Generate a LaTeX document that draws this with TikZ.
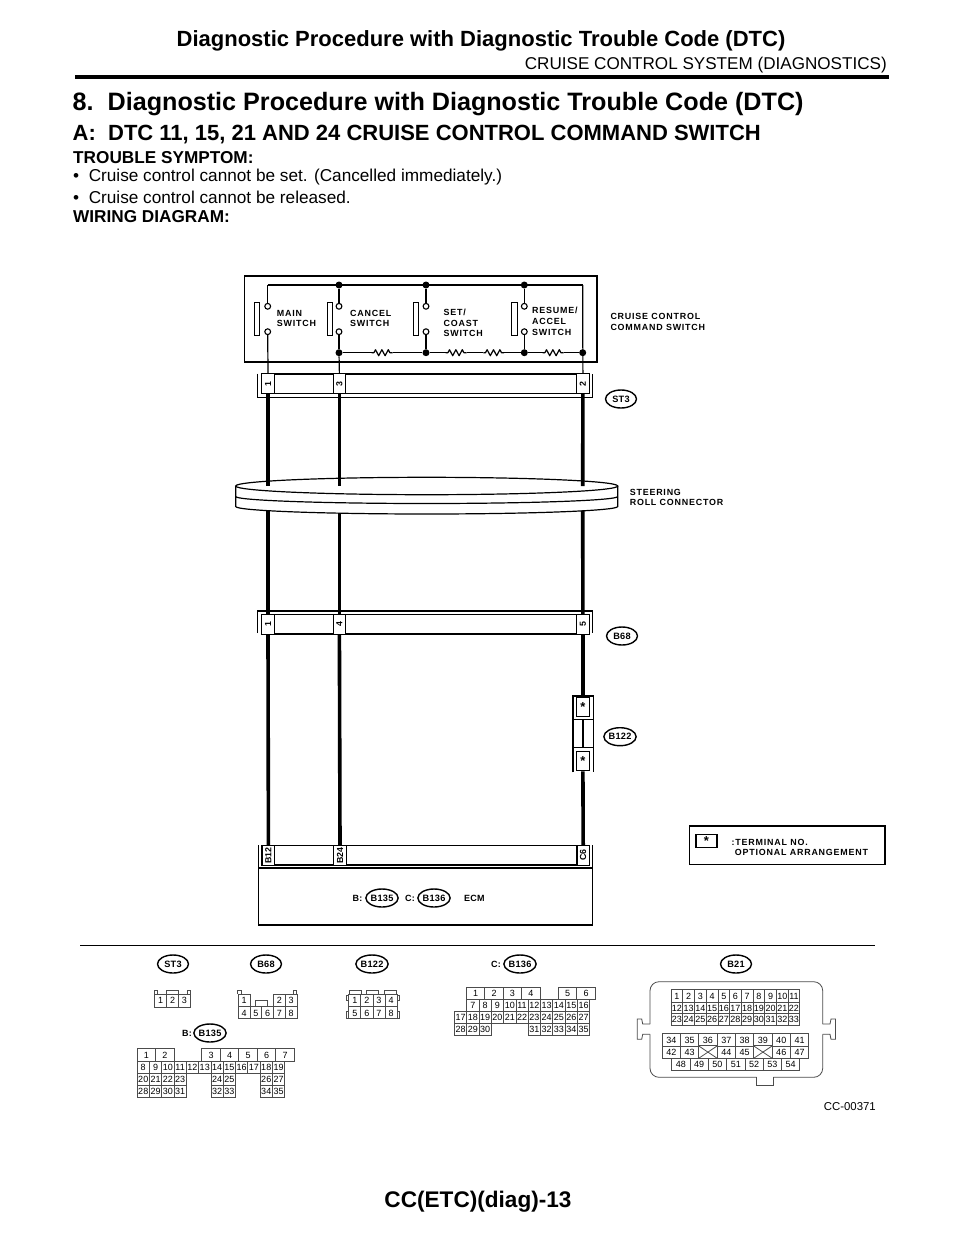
\documentclass[tikz,border=0pt]{standalone}
\usepackage{fontspec}
\setmainfont{Liberation Sans}
\newfontfamily\lblfont[LetterSpace=9]{Liberation Sans}
\newfontfamily\tagfont[LetterSpace=3]{Liberation Sans}
\usetikzlibrary{shapes.geometric}
\tikzset{
	txt/.style={inner sep=0pt,anchor=west,align=left},
	lbl/.style={txt,font=\lblfont\bfseries\fontsize{8.9}{10.8}\selectfont},
	side/.style={txt,font=\tagfont\bfseries\fontsize{9}{10}\selectfont},
	body/.style={txt,font=\fontsize{17.2}{19}\selectfont},
	bold/.style={txt,font=\bfseries\fontsize{17.2}{19}\selectfont},
	tag/.style={draw,ellipse,line width=1.4pt,fill=white,inner sep=0pt,minimum width=31pt,minimum height=18pt,font=\tagfont\bfseries\fontsize{9.2}{10}\selectfont},
	pin/.style={draw=black!70,line width=0.8pt,fill=white,inner sep=0pt,anchor=north west,text height=6.4pt,text depth=0pt,font=\fontsize{9}{9}\selectfont},
	cell/.style={draw,line width=1.1pt,fill=white,inner sep=0pt,minimum width=12.4pt,minimum height=19.5pt,font=\bfseries\fontsize{8.8}{9}\selectfont},
	starbox/.style={draw,line width=1.2pt,fill=white,inner sep=0pt,minimum width=12.6pt,minimum height=19.6pt,font=\bfseries\fontsize{13}{13}\selectfont},
	hull/.style={draw,line width=1.2pt},
	shell/.style={draw=black!70,line width=0.8pt},
	wire/.style={line width=3.6pt},
	thin wire/.style={line width=1.2pt},
	term/.style={draw,circle,line width=1.1pt,fill=white,inner sep=0pt,minimum size=5.8pt},
	dot/.style={fill,circle,inner sep=0pt,minimum size=7pt},
	blade/.style={draw,line width=1.1pt,minimum width=5.4pt,minimum height=32.5pt,inner sep=0pt}
}
\newcommand{\pinrow}[6]{
	\foreach \c/\n in {#6}
	{
		\node[pin,minimum width=#4,minimum height=#5] (#1-\n) at ({#2+\c*#4},#3) {\n};
	}
}
\newcommand{\resist}[2]{
	\draw[thin wire,line join=round] (#1) -- ++(2.2,0) -- ++(1.6,-3) -- ++(3.2,6) -- ++(3.2,-6) -- ++(3.2,6) -- ++(3.2,-6) -- ++(1.6,3) -- (#2);
}
\begin{document}
\begin{tikzpicture}[x=1pt,y=-1pt]
	\useasboundingbox[fill=white] (0,0) rectangle (960,1242);
	\node[inner sep=0pt,font=\bfseries\fontsize{22}{24}\selectfont] (title) at (481,40.5) {Diagnostic Procedure with Diagnostic Trouble Code (DTC)};
	\node[inner sep=0pt,anchor=east,font=\fontsize{17.1}{19}\selectfont] (system) at (887,65.5) {CRUISE CONTROL SYSTEM (DIAGNOSTICS)};
	\coordinate (ruleA) at (75,77);
	\coordinate (ruleB) at (889,77);
	\draw[line width=3.6pt] (ruleA) -- (ruleB);
	\node[txt,font=\bfseries\fontsize{25.15}{27}\selectfont] (head) at (72.5,104) {8.\ \ Diagnostic Procedure with Diagnostic Trouble Code (DTC)};
	\node[txt,font=\bfseries\fontsize{22}{24}\selectfont] (sub) at (72.5,135) {A:\ \ DTC 11, 15, 21 AND 24 CRUISE CONTROL COMMAND SWITCH};
	\node[bold] (symptom) at (73,157.5) {TROUBLE SYMPTOM:};
	\node[body] (item1) at (73,177.5) {•\ \ Cruise control cannot be set. (Cancelled immediately.)};
	\node[body] (item2) at (73,197.5) {•\ \ Cruise control cannot be released.};
	\node[bold] (wiring) at (73,216.5) {WIRING DIAGRAM:};

	\draw[hull,line width=1.4pt] (244.5,276) rectangle (597,362);
	\coordinate (bus1) at (267.7,285);
	\coordinate (bus2) at (582.7,285);
	\draw[thin wire] (bus1) -- (bus2);
	\foreach \s/\x in {a/267.7,b/339,c/426,d/524.3}
	{
		\node[term] (\s1) at (\x,306.3) {};
		\node[term] (\s2) at (\x,331.7) {};
	}
	\foreach \s/\x in {b/339,c/426,d/524.3}
	{
		\node[dot] (top\s) at (\x,285) {};
		\node[dot] (low\s) at (\x,352.7) {};
		\draw[thin wire] (top\s) -- (\s1);
		\draw[thin wire] (\s2) -- (low\s);
	}
	\node[dot] (lowe) at (582.7,352.7) {};
	\draw[thin wire] (bus1) -- (a1);
	\foreach \s/\x in {a/257.2,b/330,c/416.2,d/514.5}
	{
		\node[blade] (blade\s) at (\x,319) {};
	}
	\coordinate (r1a) at (371.7,352.7);
	\coordinate (r2a) at (445.7,352.7);
	\coordinate (r3a) at (483.3,352.7);
	\coordinate (r4a) at (542.7,352.7);
	\coordinate (r1b) at (392.5,352.7);
	\coordinate (r2b) at (466.5,352.7);
	\coordinate (r3b) at (504.1,352.7);
	\coordinate (r4b) at (563.5,352.7);
	\draw[thin wire] (lowb) -- (r1a) (r1b) -- (lowc) -- (r2a) (r2b) -- (r3a) (r3b) -- (lowd) -- (r4a) (r4b) -- (lowe);
	\resist{r1a}{r1b}
	\resist{r2a}{r2b}
	\resist{r3a}{r3b}
	\resist{r4a}{r4b}
	\node[lbl] (main) at (276.7,318.5) {MAIN\\SWITCH};
	\node[lbl] (cancel) at (350,318.5) {CANCEL\\SWITCH};
	\node[lbl] (setc) at (443.5,323) {SET/\\COAST\\SWITCH};
	\node[lbl] (resume) at (532,321.5) {RESUME/\\ACCEL\\SWITCH};
	\node[lbl] (cruise) at (610.3,322) {CRUISE CONTROL\\COMMAND SWITCH};

	\draw[hull,line width=1.1pt] (261.7,374) rectangle (589,393.3);
	\draw[hull,line width=1.4pt] (257.7,373.5) -- (257.7,397.5) -- (592.3,397.5) -- (592.3,373.5);
	\node[cell] (st3a) at (268,383.6) {\rotatebox{90}{1}};
	\node[cell] (st3b) at (339.4,383.6) {\rotatebox{90}{3}};
	\node[cell] (st3c) at (582.9,383.6) {\rotatebox{90}{2}};
	\node[tag] (tagst3) at (621,399) {ST3};
	\draw[thin wire] (a2) -- (st3a.north);
	\draw[thin wire] (lowb) -- (st3b.north);
	\draw[thin wire] (bus2) -- (st3c.north);

	\draw[hull,fill=white] (235.7,486) -- (235.7,506.5) arc[start angle=180,end angle=0,x radius=191,y radius=7.5] -- (617.7,486);
	\draw[hull] (235.7,496.5) arc[start angle=180,end angle=0,x radius=191,y radius=7];
	\draw[hull,fill=white] (426.7,486) ellipse[x radius=191,y radius=8.7];
	\node[lbl] (roll) at (629.6,497.5) {STEERING\\ROLL CONNECTOR};
	\coordinate (rollAt) at (268,486);
	\coordinate (rollBt) at (339.4,486);
	\coordinate (rollCt) at (582.7,486);
	\coordinate (rollAb) at (268,510.5);
	\coordinate (rollBb) at (339.4,512.8);
	\coordinate (rollCb) at (582.7,510.5);

	\draw[hull,line width=1.1pt] (261.7,614.7) rectangle (589,634);
	\draw[hull,line width=1.4pt] (257.7,633) -- (257.7,611) -- (592.7,611) -- (592.7,633);
	\node[cell] (b68a) at (268,624.3) {\rotatebox{90}{1}};
	\node[cell] (b68b) at (339.4,624.3) {\rotatebox{90}{4}};
	\node[cell] (b68c) at (582.9,624.3) {\rotatebox{90}{5}};
	\node[tag] (tagb68) at (622,636) {B68};
	\draw[wire] (st3a.south) -- (rollAt) (rollAb) -- (b68a.north);
	\draw[wire] (st3b.south) -- (rollBt) (rollBb) -- (b68b.north);
	\draw[wire] (st3c.south) -- (rollCt) (rollCb) -- (b68c.north);

	\draw[hull] (572.9,719.3) -- (572.9,696) -- (593.1,696) -- (593.1,719.3) -- cycle;
	\draw[hull] (572.9,772.3) -- (572.9,747.3) -- (593.1,747.3) -- (593.1,772.3);
	\draw[hull] (572.9,719.3) -- (572.9,747.3) (593.1,719.3) -- (593.1,747.3);
	\coordinate (midA) at (582.9,719.3);
	\coordinate (midB) at (582.9,747.3);
	\draw[hull] (midA) -- (midB);
	\node[starbox] (b122a) at (582.9,706.8) {*};
	\node[starbox] (b122b) at (582.9,761) {*};
	\node[tag] (tagb122) at (620,736.7) {B122};

	\draw[hull] (258.8,845) -- (258.8,925) -- (592.8,925) -- (592.8,845);
	\draw[hull] (258.8,868) -- (592.8,868);
	\draw[hull,line width=1.1pt] (261.7,845.5) rectangle (589.5,865);
	\node[cell] (ecma) at (268.4,855.3) {\rotatebox{90}{B12}};
	\node[cell] (ecmb) at (340,855.3) {\rotatebox{90}{B24}};
	\node[cell] (ecmc) at (583.2,855.3) {\rotatebox{90}{C6}};
	\draw[wire] (b68a.south) -- (ecma.north);
	\draw[wire] (b68b.south) -- (ecmb.north);
	\draw[wire] (b68c.south) -- (b122a.north);
	\draw[wire] (b122b.south) -- (ecmc.north);
	\node[side] (bmark) at (352.5,898) {B:};
	\node[tag] (tagb135) at (382,898) {B135};
	\node[side] (cmark) at (405,898) {C:};
	\node[tag] (tagb136) at (434,898) {B136};
	\node[side] (ecm) at (464,898) {ECM};

	\draw[hull,line width=1.4pt] (689.5,826) rectangle (885,864.3);
	\node[starbox,minimum width=21pt,minimum height=12.4pt] (legend) at (706.5,841) {*};
	\node[lbl] (terminal) at (731.5,847.5) {:TERMINAL NO.\\\ OPTIONAL ARRANGEMENT};

	\coordinate (ruleC) at (80,945.5);
	\coordinate (ruleD) at (875,945.5);
	\draw[line width=1.8pt] (ruleC) -- (ruleD);

	\node[tag] (keyst3) at (173,964) {ST3};
	\node[tag] (keyb68) at (266,964) {B68};
	\node[tag] (keyb122) at (372,964) {B122};
	\node[side] (keyc) at (491,964) {C:};
	\node[tag] (keyb136) at (520,964) {B136};
	\node[tag] (keyb21) at (736,964) {B21};
	\node[side] (keyb) at (182,1033) {B:};
	\node[tag] (keyb135) at (210,1033) {B135};

	\foreach \a/\b in {154.3/157.3,166/178,187/190}
	{
		\draw[shell] (\a,994) -- (\a,990) -- (\b,990) -- (\b,994);
	}
	\pinrow{st3}{154.3}{994}{11.9}{12.5}{0/1,1/2,2/3}

	\foreach \a/\b in {237.7/241,293.4/296.7}
	{
		\draw[shell] (\a,994) -- (\a,990) -- (\b,990) -- (\b,994);
	}
	\draw[shell] (255,1006.7) -- (255,1000.7) -- (267.3,1000.7) -- (267.3,1006.7);
	\pinrow{b68}{237.7}{994}{11.8}{12.4}{0/1,3/2,4/3}
	\pinrow{b68}{237.7}{1006.4}{11.8}{12}{0/4,1/5,2/6,3/7,4/8}

	\foreach \a/\b in {349.3/361,366.7/378.3,384/396}
	{
		\draw[shell] (\a,994) -- (\a,990) -- (\b,990) -- (\b,994);
	}
	\draw[shell] (348.3,995) -- (346,995) -- (346,1000.7) -- (348.3,1000.7);
	\draw[shell] (396.7,995) -- (399,995) -- (399,1000.7) -- (396.7,1000.7);
	\draw[shell] (348.3,1011.7) -- (346,1011.7) -- (346,1018.3) -- (348.3,1018.3);
	\draw[shell] (396.7,1011.7) -- (399,1011.7) -- (399,1018.3) -- (396.7,1018.3);
	\pinrow{b122}{348.3}{994}{12.1}{12.4}{0/1,1/2,2/3,3/4}
	\pinrow{b122}{348.3}{1006.4}{12.1}{12}{0/5,1/6,2/7,3/8}

	\pinrow{b135}{136.7}{1048.3}{18.5}{12.4}{0/1,1/2,3.5/3,4.5/4,5.5/5,6.5/6,7.5/7}
	\pinrow{b135}{136.7}{1060.7}{12.3}{12}{0/8,1/9,2/10,3/11,4/12,5/13,6/14,7/15,8/16,9/17,10/18,11/19}
	\pinrow{b135}{136.7}{1072.7}{12.3}{12.3}{0/20,1/21,2/22,3/23,6/24,7/25,10/26,11/27}
	\pinrow{b135}{136.7}{1085}{12.3}{12.3}{0/28,1/29,2/30,3/31,6/32,7/33,10/34,11/35}

	\pinrow{b136}{466}{986.7}{18.4}{12.3}{0/1,1/2,2/3,3/4,5/5,6/6}
	\pinrow{b136}{454}{999}{12.3}{12}{1/7,2/8,3/9,4/10,5/11,6/12,7/13,8/14,9/15,10/16}
	\pinrow{b136}{454}{1011}{12.3}{12.3}{0/17,1/18,2/19,3/20,4/21,5/22,6/23,7/24,8/25,9/26,10/27}
	\pinrow{b136}{454}{1023.3}{12.3}{11.7}{0/28,1/29,2/30,6/31,7/32,8/33,9/34,10/35}

	\draw[shell,rounded corners=9pt] (650,1024) -- (650,981.7) -- (822.7,981.7) -- (822.7,1024);
	\draw[shell,rounded corners=9pt] (650,1034.3) -- (650,1077.3) -- (756.7,1077.3);
	\draw[shell,rounded corners=9pt] (773.3,1077.3) -- (822.7,1077.3) -- (822.7,1034.3);
	\draw[shell] (756.7,1077.3) -- (756.7,1085.7) -- (773.3,1085.7) -- (773.3,1077.3);
	\draw[shell] (650,1024) -- (642.7,1024) -- (641.7,1019) -- (637.3,1019) -- (637.3,1039.3) -- (641.7,1039.3) -- (642.7,1034.3) -- (650,1034.3);
	\draw[shell] (822.7,1024) -- (830,1024) -- (831,1019) -- (835.4,1019) -- (835.4,1039.3) -- (831,1039.3) -- (830,1034.3) -- (822.7,1034.3);
	\pinrow{b21}{670.7}{989.3}{11.7}{12.4}{0/1,1/2,2/3,3/4,4/5,5/6,6/7,7/8,8/9,9/10,10/11}
	\pinrow{b21}{670.7}{1001.7}{11.7}{11.6}{0/12,1/13,2/14,3/15,4/16,5/17,6/18,7/19,8/20,9/21,10/22}
	\pinrow{b21}{670.7}{1013.3}{11.7}{11.7}{0/23,1/24,2/25,3/26,4/27,5/28,6/29,7/30,8/31,9/32,10/33}
	\pinrow{b21}{661.7}{1033.3}{18.33}{12.4}{0/34,1/35,2/36,3/37,4/38,5/39,6/40,7/41}
	\pinrow{b21}{661.7}{1045.7}{18.33}{12}{0/42,1/43,3/44,4/45,6/46,7/47}
	\pinrow{b21}{661.7}{1045.7}{18.33}{12}{2/x,5/y}
	\pinrow{b21}{671.3}{1057.7}{18.3}{12.3}{0/48,1/49,2/50,3/51,4/52,5/53,6/54}
	\foreach \n in {x,y}
	{
		\fill[white] (b21-\n.south west) rectangle (b21-\n.north east);
		\draw[shell] (b21-\n.south west) rectangle (b21-\n.north east);
		\draw[shell] (b21-\n.south west) -- (b21-\n.north east);
		\draw[shell] (b21-\n.north west) -- (b21-\n.south east);
	}
	\node[inner sep=0pt,anchor=east,font=\fontsize{11.4}{12}\selectfont] (code) at (876,1107) {CC-00371};
	\node[inner sep=0pt,font=\bfseries\fontsize{22.6}{24}\selectfont] (foot) at (478,1202) {CC(ETC)(diag)-13};
\end{tikzpicture}
\end{document}
